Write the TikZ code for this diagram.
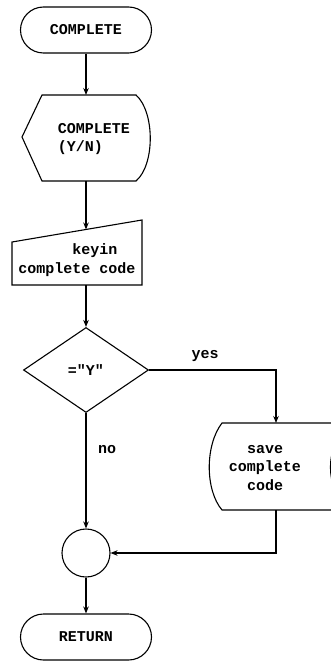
\documentclass[tikz,border=0pt]{standalone}
\usepackage{fontspec}
\setmonofont{Liberation Mono}
\usetikzlibrary{shapes.geometric,shapes.misc,arrows.meta}
\begin{document}
\begin{tikzpicture}[x=1pt,y=-1pt,
  line/.style={line width=1.1pt, black},
  arr/.style={line, -{Stealth[length=7pt,width=5.5pt]}},
  txt/.style={font=\ttfamily\bfseries\fontsize{15}{18.5}\selectfont, inner sep=0pt},
  term/.style={draw, line width=1.1pt, rounded rectangle, minimum width=131pt, minimum height=46pt, inner sep=0pt, txt}]
\fill[white] (0,0) rectangle (331,663);
\useasboundingbox (0,0) rectangle (331,663);
% start terminator
\node[term] (start) at (86,30) {COMPLETE};
% display shape
\draw[line] (22,137) -- (42,95) -- (136,95) .. controls (155,112) and (155,165) .. (136,181) -- (42,181) -- cycle;
\coordinate (dtop) at (86,95);
\coordinate (dbot) at (86,181);
\node[txt, align=left] (disp) at (94,139) {COMPLETE\\(Y/N)};
% manual input
\draw[line] (12,242) -- (142,220) -- (142,285) -- (12,285) -- cycle;
\coordinate (mtop) at (86,229.5);
\coordinate (mbot) at (86,285);
\node[txt, align=center] (key) at (77,260) {\hspace*{2.4em}keyin\\complete code};
% decision
\node[draw, line width=1.1pt, diamond, aspect=1.5, minimum width=125pt, minimum height=85pt, inner sep=0pt, txt] (dec) at (86,370) {="Y"};
% stored data (save)
\draw[line] (222,423) -- (350,423) .. controls (324,445) and (324,490) .. (350,510) -- (222,510) .. controls (205,490) and (205,445) .. (222,423) -- cycle;
\coordinate (stop) at (276,423);
\coordinate (sbot) at (276,510);
\node[txt, align=center] (save) at (265,468) {save\\complete\\code};
% connector
\node[draw, line width=1.1pt, circle, minimum size=48pt, inner sep=0pt] (conn) at (86,553) {};
% return terminator
\node[term] (ret) at (86,637) {RETURN};
% labels
\node[txt] (yes) at (205,356) {yes};
\node[txt] (no) at (107,450) {no};
% connectors
\draw[arr] (start) -- (dtop);
\draw[arr] (dbot) -- (mtop);
\draw[arr] (mbot) -- (dec.north);
\draw[arr] (dec.east) -| (stop);
\draw[arr] (dec.south) -- (conn.north);
\draw[arr] (sbot) |- (conn.east);
\draw[arr] (conn.south) -- (ret.north);
\end{tikzpicture}
\end{document}
